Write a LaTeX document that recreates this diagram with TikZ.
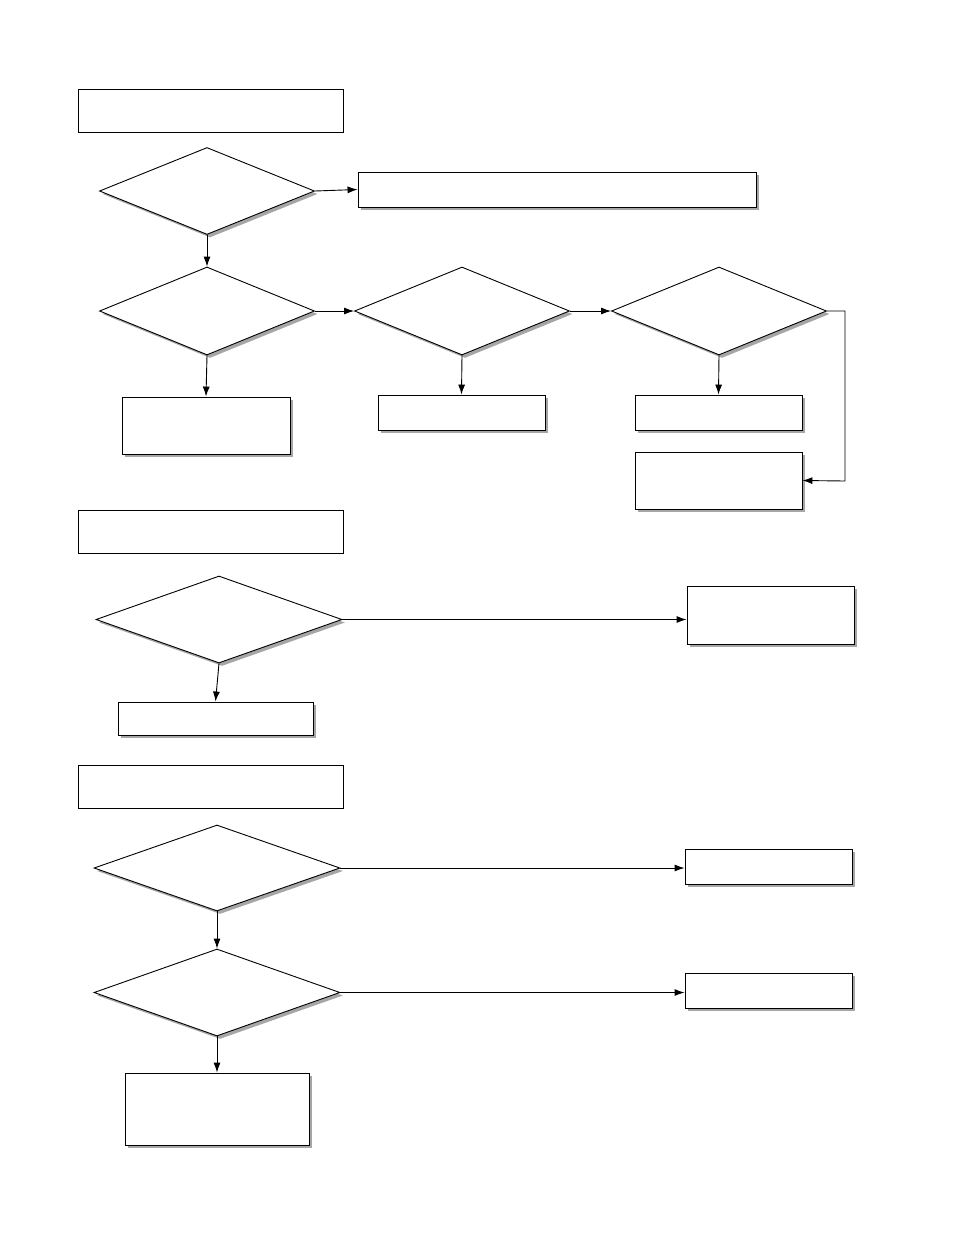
\documentclass[tikz,border=0pt]{standalone}
\usetikzlibrary{shapes.geometric,shadows,arrows.meta}
\begin{document}
\begin{tikzpicture}[x=1pt,y=-1pt,
  sh/.style={drop shadow={shadow xshift=3pt,shadow yshift=-3pt,fill=black!35,opacity=1}},
  hbox/.style={draw,line width=0.9pt,fill=white,inner sep=0,minimum width=265pt,minimum height=43pt},
  rbox/.style={draw,line width=0.9pt,fill=white,inner sep=0,sh},
  dia/.style={diamond,draw,line width=0.9pt,fill=white,inner sep=0,sh},
  arr/.style={line width=0.9pt,-{Latex[length=10pt,width=7pt]}},
  ln/.style={line width=0.9pt}]
\useasboundingbox (0,0) rectangle (954,1243);
\node[hbox] (h1) at (210.5,110.5) {};
\node[hbox] (h2) at (210.5,532) {};
\node[hbox] (h3) at (210.5,787) {};
\node[dia,minimum width=215pt,minimum height=87pt] (d1) at (207,191) {};
\node[rbox,minimum width=398pt,minimum height=35pt] (A) at (557,189.5) {};
\node[dia,minimum width=215pt,minimum height=88pt] (d2) at (207,311) {};
\node[dia,minimum width=215pt,minimum height=88pt] (d3) at (462,311) {};
\node[dia,minimum width=215pt,minimum height=88pt] (d4) at (719,311) {};
\node[rbox,minimum width=168pt,minimum height=57pt] (B) at (206,425.5) {};
\node[rbox,minimum width=167pt,minimum height=35pt] (C) at (461.5,412.5) {};
\node[rbox,minimum width=167pt,minimum height=35pt] (D) at (718.5,412.5) {};
\node[rbox,minimum width=167pt,minimum height=57pt] (E) at (718.5,480.5) {};
\node[dia,minimum width=246pt,minimum height=87pt] (d5) at (219,619.5) {};
\node[rbox,minimum width=167pt,minimum height=58pt] (F) at (770.5,615) {};
\node[rbox,minimum width=195pt,minimum height=33pt] (G) at (215.5,718.5) {};
\node[dia,minimum width=246pt,minimum height=86pt] (d6) at (217,868) {};
\node[rbox,minimum width=167pt,minimum height=35pt] (H) at (768.5,866.5) {};
\node[dia,minimum width=246pt,minimum height=87pt] (d7) at (217,992.5) {};
\node[rbox,minimum width=167pt,minimum height=35pt] (I) at (768.5,990.5) {};
\node[rbox,minimum width=184pt,minimum height=72pt] (J) at (217,1109) {};
\coordinate (c1) at (845,311);
\coordinate (c2) at (845,481);
\draw[arr] (d1.east) -- (A.west);
\draw[arr] (d1.south) -- (d2.north);
\draw[arr] (d2.east) -- (d3.west);
\draw[arr] (d3.east) -- (d4.west);
\draw[arr] (d2.south) -- (B.north);
\draw[arr] (d3.south) -- (C.north);
\draw[arr] (d4.south) -- (D.north);
\draw[arr] (d4.east) -- (c1) -- (c2) -- (E.east);
\draw[arr] (d5.east) -- (F.west |- d5.east);
\draw[arr] (d5.south) -- (G.north);
\draw[arr] (d6.east) -- (H.west |- d6.east);
\draw[arr] (d6.south) -- (d7.north);
\draw[arr] (d7.east) -- (I.west |- d7.east);
\draw[arr] (d7.south) -- (J.north);
\end{tikzpicture}
\end{document}
